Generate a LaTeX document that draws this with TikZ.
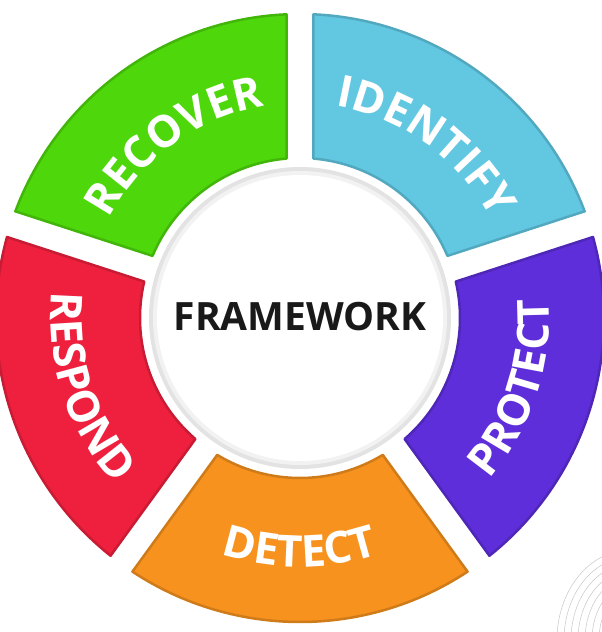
\documentclass[tikz,border=0pt]{standalone}
\usepackage{fontspec}
\setmainfont{Open Sans}
\usetikzlibrary{decorations.text}

\definecolor{recovergreen}{RGB}{78,216,12}
\definecolor{identifyblue}{RGB}{98,200,226}
\definecolor{protectpurple}{RGB}{94,46,218}
\definecolor{detectorange}{RGB}{247,146,30}
\definecolor{respondred}{RGB}{238,32,62}

\tikzset{
  segment/.style={fill=#1, draw=#1!84!black, line width=2.5pt, line join=round},
  seglabel/.style={decorate, decoration={text along path, text align=center,
      text color=white, text={|\fontsize{44}{44}\selectfont\bfseries|#1}}},
}

\begin{document}
\begin{tikzpicture}[x=1pt, y=1pt]
    \useasboundingbox (-300,-314) rectangle (302,318);

    % Ring of five segments, gaps of constant width
    \def\ri{160pt}
    \def\ro{304pt}
    \pgfmathsetmacro\din{asin(13.5/160)}
    \pgfmathsetmacro\dout{asin(13.5/304)}
    \foreach \a/\col in {18/identifyblue, 90/recovergreen, 162/respondred, 234/detectorange, 306/protectpurple}{
        \pgfmathsetmacro\b{\a+72}
        \draw[segment=\col] ({\a+\din}:\ri) -- ({\a+\dout}:\ro)
            arc[start angle={\a+\dout}, end angle={\b-\dout}, radius=\ro]
            -- ({\b-\din}:\ri)
            arc[start angle={\b-\din}, end angle={\a+\din}, radius=\ri] -- cycle;
    }

    % Labels along the segments
    \path[seglabel=RECOVER] (160:215pt) arc[start angle=160, end angle=92, radius=215pt];
    \path[seglabel=IDENTIFY] (88:215pt) arc[start angle=88, end angle=20, radius=215pt];
    \path[seglabel=RESPOND] (164:249pt) arc[start angle=164, end angle=232, radius=249pt];
    \path[seglabel=DETECT] (236:249pt) arc[start angle=236, end angle=304, radius=249pt];
    \path[seglabel=PROTECT] (-52:249pt) arc[start angle=-52, end angle=16, radius=249pt];

    % Centre disc
    \fill[gray!22] (0,0) circle[radius=151pt];
    \fill[gray!10] (0,0) circle[radius=147pt];
    \fill[white] (0,0) circle[radius=143pt];
    \node[font=\fontsize{39}{39}\selectfont\bfseries, text=black!90] (core) at (0,1) {FRAMEWORK};

    % Faint arcs in the corner
    \begin{scope}
        \clip (-300,-314) rectangle (302,318);
        \foreach \k [evaluate=\k as \rx using 73-7*\k, evaluate=\k as \ry using 90-7*\k] in {0,...,7}
            \draw[gray!45, line width=0.5pt] (330,-322) ellipse[x radius=\rx pt, y radius=\ry pt];
    \end{scope}
\end{tikzpicture}
\end{document}
